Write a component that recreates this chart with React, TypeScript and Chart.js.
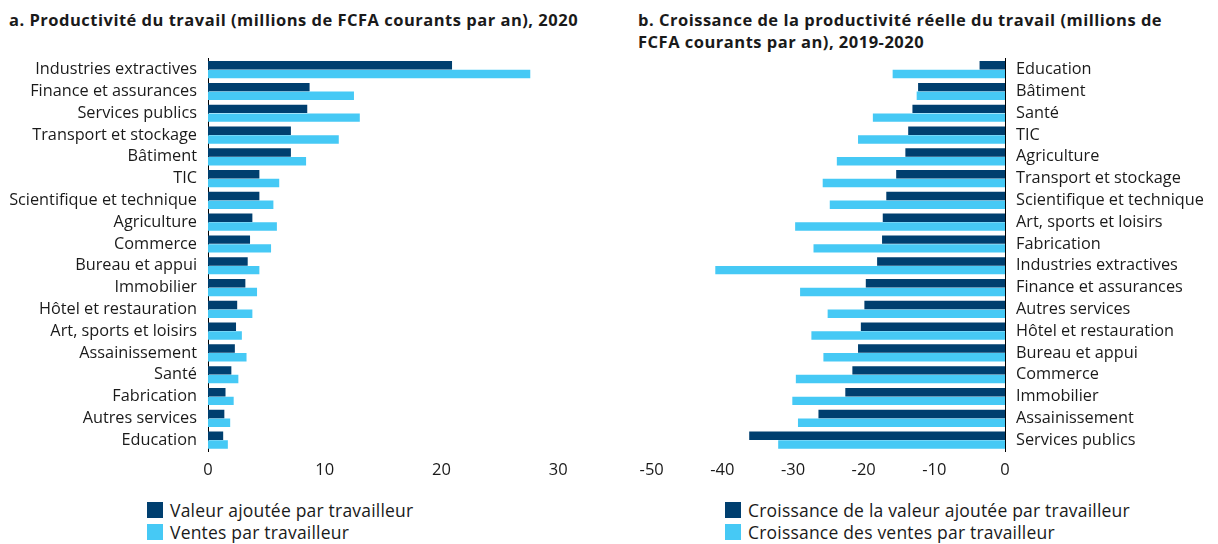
import React, { useEffect, useRef } from "react";
import { Chart, registerables } from "chart.js";

Chart.register(...registerables);

const FONT = "'Open Sans', Lato, sans-serif";
const DARK = "#003F6F";
const LIGHT = "#46C9F5";
const TEXT = "#1a1a1a";

// Panel a
const categoriesA = [
  "Industries extractives",
  "Finance et assurances",
  "Services publics",
  "Transport et stockage",
  "Bâtiment",
  "TIC",
  "Scientifique et technique",
  "Agriculture",
  "Commerce",
  "Bureau et appui",
  "Immobilier",
  "Hôtel et restauration",
  "Art, sports et loisirs",
  "Assainissement",
  "Santé",
  "Fabrication",
  "Autres services",
  "Education",
];
const valueAddedA = [20.9, 8.7, 8.5, 7.1, 7.1, 4.4, 4.4, 3.8, 3.6, 3.4, 3.2, 2.5, 2.4, 2.3, 2.0, 1.5, 1.4, 1.3];
const salesA = [27.6, 12.5, 13.0, 11.2, 8.4, 6.1, 5.6, 5.9, 5.4, 4.4, 4.2, 3.8, 2.9, 3.3, 2.6, 2.2, 1.9, 1.7];
const ticksA = { min: 0, max: 30, step: 10 };

// Panel b
const categoriesB = [
  "Education",
  "Bâtiment",
  "Santé",
  "TIC",
  "Agriculture",
  "Transport et stockage",
  "Scientifique et technique",
  "Art, sports et loisirs",
  "Fabrication",
  "Industries extractives",
  "Finance et assurances",
  "Autres services",
  "Hôtel et restauration",
  "Bureau et appui",
  "Commerce",
  "Immobilier",
  "Assainissement",
  "Services publics",
];
const growthValueAddedB = [-3.6, -12.3, -13.1, -13.7, -14.1, -15.4, -16.8, -17.3, -17.4, -18.1, -19.7, -19.9, -20.4, -20.8, -21.6, -22.6, -26.4, -36.2];
const growthSalesB = [-15.9, -12.5, -18.7, -20.8, -23.8, -25.8, -24.8, -29.7, -27.1, -41.0, -29.0, -25.1, -27.4, -25.7, -29.6, -30.1, -29.3, -32.1];
const ticksB = { min: -50, max: 0, step: 10 };

const titleA = "a. Productivité du travail (millions de FCFA courants par an), 2020";
const titleB1 = "b. Croissance de la productivité réelle du travail (millions de";
const titleB2 = "FCFA courants par an), 2019-2020";
const legendA = ["Valeur ajoutée par travailleur", "Ventes par travailleur"];
const legendB = ["Croissance de la valeur ajoutée par travailleur", "Croissance des ventes par travailleur"];

type PanelProps = {
  left: number;
  top: number;
  width: number;
  height: number;
  labels: string[];
  dark: number[];
  light: number[];
  range: { min: number; max: number; step: number };
  side: "left" | "right";
  padLeft: number;
  padRight: number;
  axisWidth: number;
};

function BarPanel(p: PanelProps) {
  const ref = useRef<HTMLCanvasElement>(null);
  useEffect(() => {
    const chart = new Chart(ref.current!, {
      type: "bar",
      data: {
        labels: p.labels,
        datasets: [
          { data: p.dark, backgroundColor: DARK, borderWidth: 0 },
          { data: p.light, backgroundColor: LIGHT, borderWidth: 0 },
        ],
      },
      options: {
        animation: false,
        responsive: false,
        maintainAspectRatio: false,
        indexAxis: "y",
        layout: { padding: { left: p.padLeft, right: p.padRight, top: 0, bottom: 0 } },
        plugins: { legend: { display: false }, tooltip: { enabled: false } },
        datasets: { bar: { categoryPercentage: 0.8, barPercentage: 0.97 } },
        scales: {
          x: {
            min: p.range.min,
            max: p.range.max,
            ticks: {
              stepSize: p.range.step,
              font: { family: FONT, size: 16.5 },
              color: TEXT,
              padding: 9,
            },
            grid: { display: false, drawTicks: false },
            border: { display: false },
            afterFit: (s: any) => {
              s.height = 30;
            },
          },
          y: {
            position: p.side,
            ticks: {
              font: { family: FONT, size: 16.3 },
              color: TEXT,
              padding: 11,
              autoSkip: false,
            },
            grid: { display: false, drawTicks: false },
            border: { display: true, color: "#000", width: 1 },
            afterFit: (s: any) => {
              s.width = p.axisWidth;
            },
          },
        },
      } as any,
    });
    return () => chart.destroy();
  }, []);
  return (
    <canvas
      ref={ref}
      width={p.width}
      height={p.height}
      style={{ position: "absolute", left: p.left, top: p.top, width: p.width, height: p.height }}
    />
  );
}

function Legend({ left, top, items }: { left: number; top: number; items: string[] }) {
  const colors = [DARK, LIGHT];
  return (
    <div
      style={{
        position: "absolute",
        left,
        top,
        fontFamily: FONT,
        fontSize: 17.5,
        letterSpacing: 0.2,
        color: TEXT,
        whiteSpace: "nowrap",
      }}
    >
      {items.map((t, i) => (
        <div key={i} style={{ display: "flex", alignItems: "center", height: 21.7 }}>
          <span style={{ display: "inline-block", width: 16, height: 16, background: colors[i], marginRight: 7 }} />
          <span>{t}</span>
        </div>
      ))}
    </div>
  );
}

const titleStyle: React.CSSProperties = {
  position: "absolute",
  top: 9,
  fontFamily: FONT,
  fontWeight: 700,
  fontSize: 16.5,
  letterSpacing: 0.5,
  lineHeight: "21.7px",
  color: TEXT,
  whiteSpace: "nowrap",
};

export default function App() {
  return (
    <div style={{ position: "absolute", left: 0, top: 0, width: 1218, height: 544, background: "#fff", overflow: "hidden" }}>
      <div style={{ ...titleStyle, left: 9 }}>{titleA}</div>
      <div style={{ ...titleStyle, left: 638 }}>
        {titleB1}
        <br />
        {titleB2}
      </div>
      <BarPanel
        left={0}
        top={38}
        width={590}
        height={443}
        labels={categoriesA}
        dark={valueAddedA}
        light={salesA}
        range={ticksA}
        side="left"
        padLeft={0}
        padRight={31.7}
        axisWidth={208}
      />
      <BarPanel
        left={600}
        top={38}
        width={618}
        height={443}
        labels={categoriesB}
        dark={growthValueAddedB}
        light={growthSalesB}
        range={ticksB}
        side="right"
        padLeft={51.7}
        padRight={0}
        axisWidth={213}
      />
      <Legend left={147} top={499} items={legendA} />
      <Legend left={725} top={499} items={legendB} />
    </div>
  );
}
